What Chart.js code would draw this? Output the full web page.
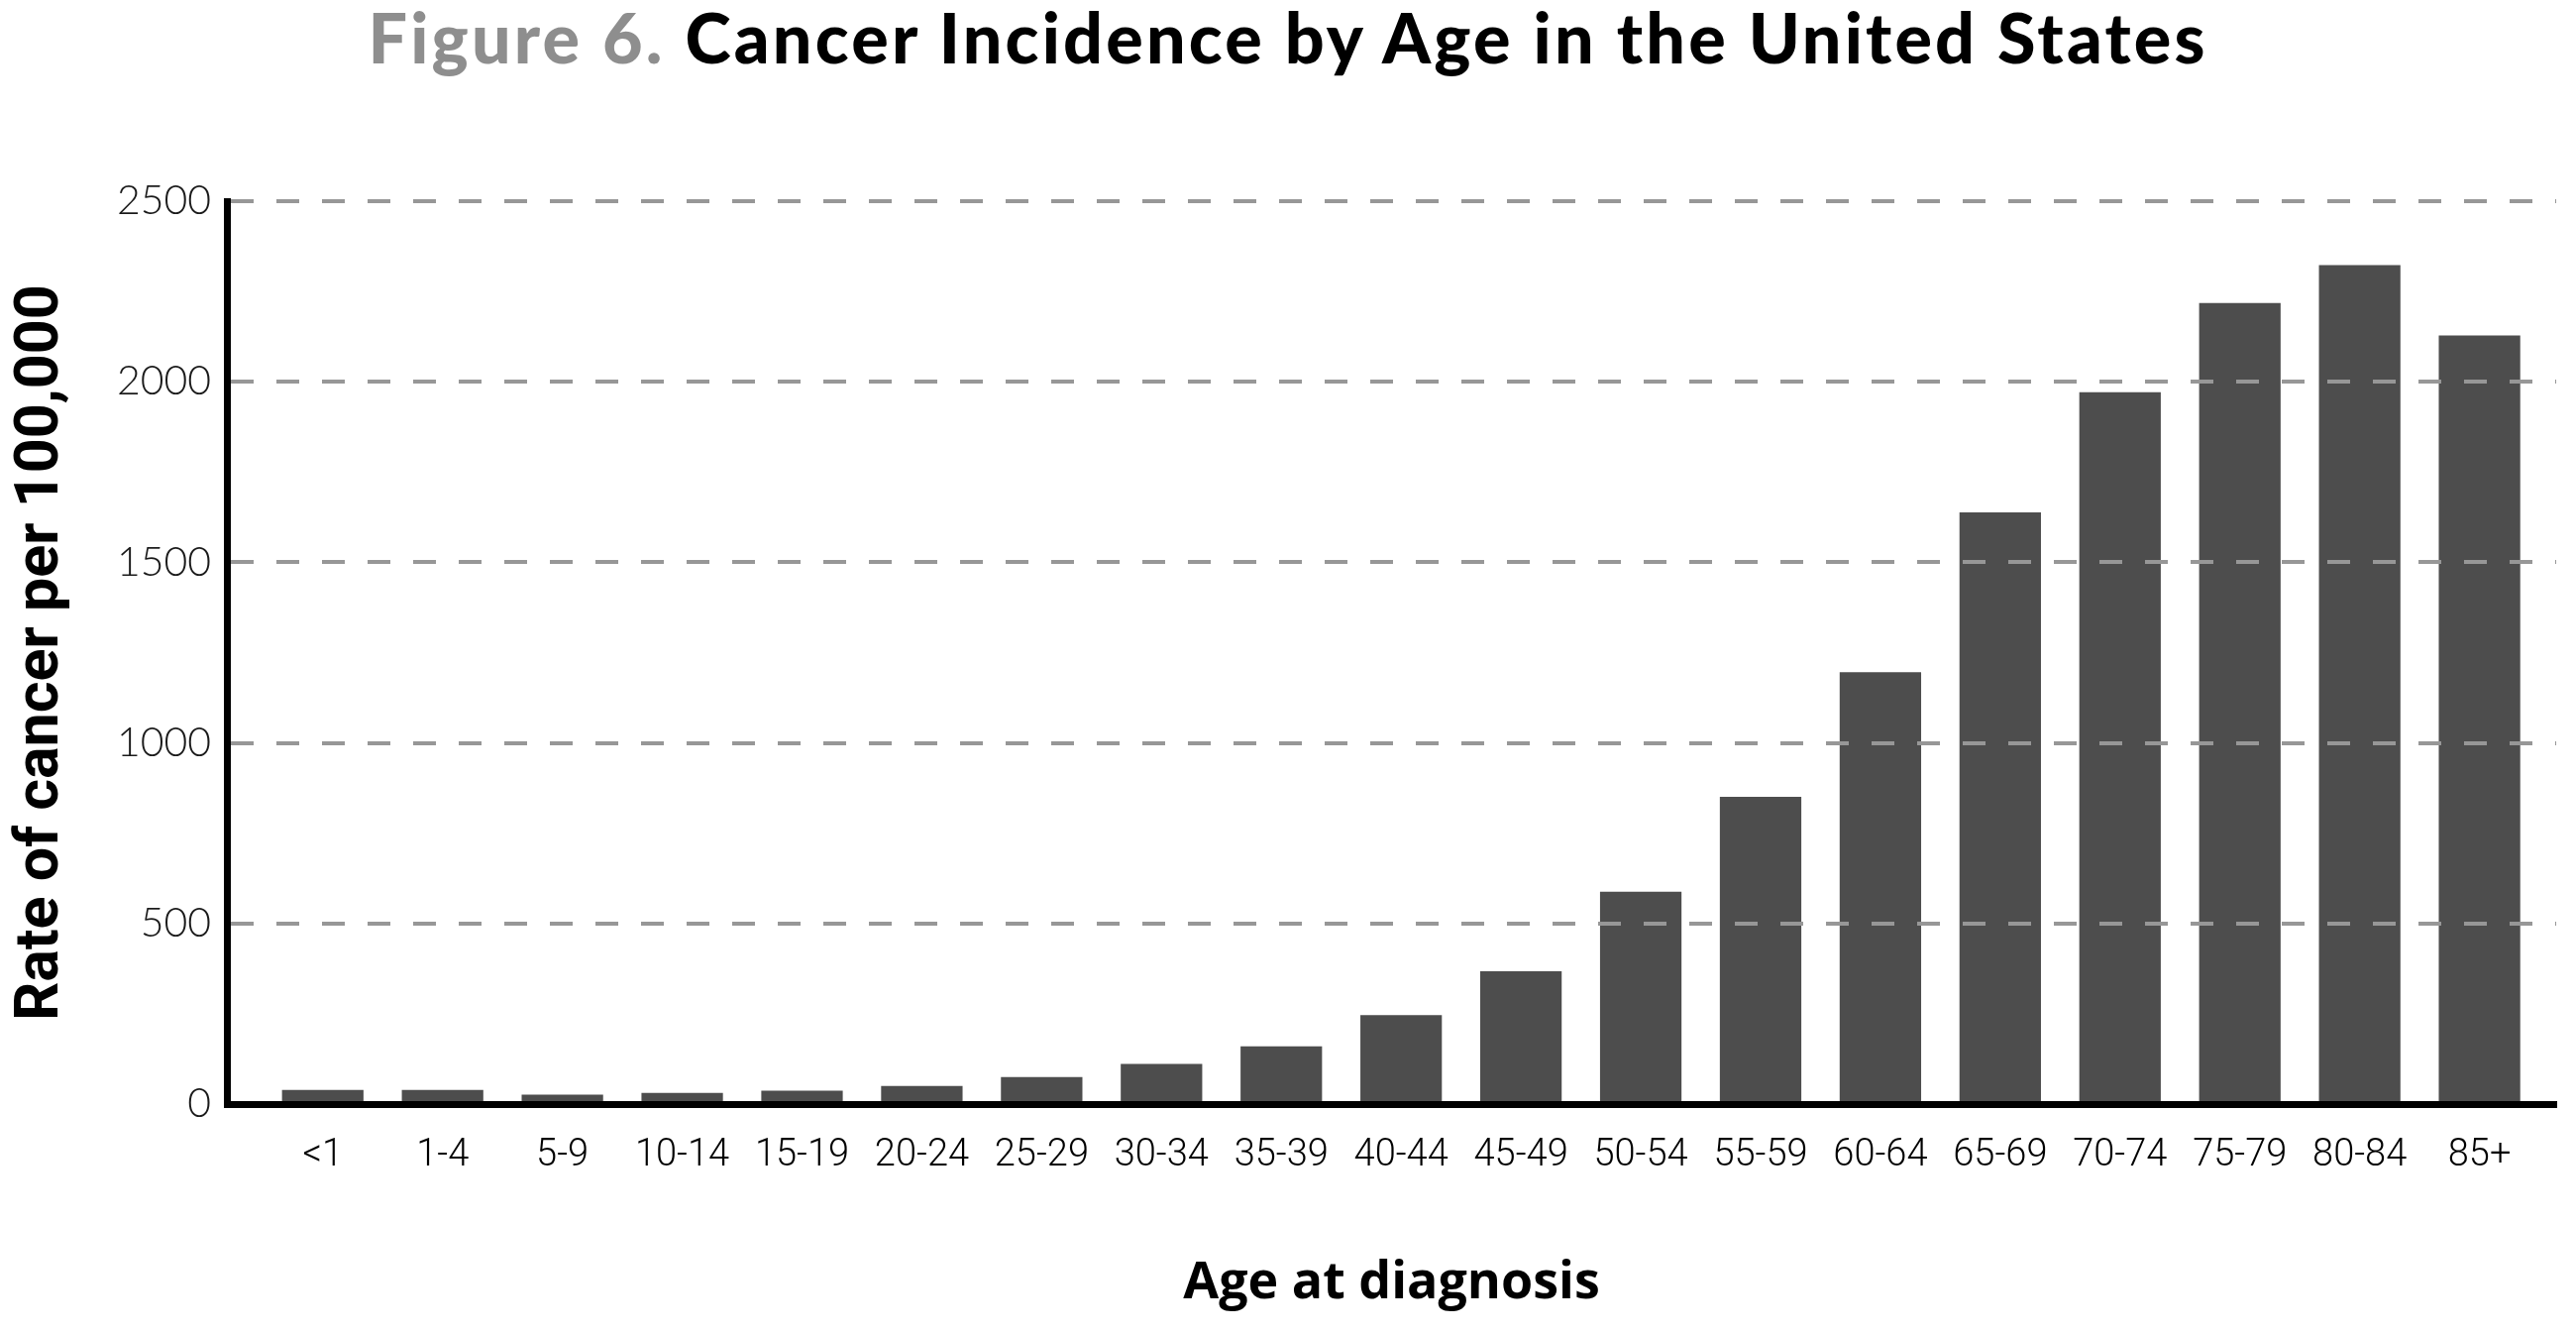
<!DOCTYPE html>
<html>
<head>
<meta charset="utf-8">
<script src="https://cdn.jsdelivr.net/npm/chart.js@4/dist/chart.umd.min.js"></script>
<style>
  html, body { margin: 0; padding: 0; background: #ffffff; }
  #wrap { position: relative; width: 2600px; height: 1345px; overflow: hidden; }
  #title {
    position: absolute; left: 0; top: -5px; width: 2600px; text-align: center;
    font-family: Lato, "Open Sans", sans-serif; font-weight: 900; font-size: 70px;
    line-height: 84px; color: #000; white-space: nowrap;
  }
  #title span.inner { display: inline-block; }
  #title .fig { color: #8e8e8e; }
  canvas { position: absolute; left: 0; top: 0; }
</style>
</head>
<body>
<div id="wrap">
  <canvas id="c" width="2600" height="1345"></canvas>
  <div id="title"><span class="inner" id="ti"><span class="fig">Figure 6.</span> Cancer Incidence by Age in the United States</span></div>
</div>
<script>
// ---- data ----
const categories = ["<1", "1-4", "5-9", "10-14", "15-19", "20-24", "25-29", "30-34", "35-39",
  "40-44", "45-49", "50-54", "55-59", "60-64", "65-69", "70-74", "75-79", "80-84", "85+"];
const rates = [39, 39, 26, 31, 37, 50, 75, 111, 160, 246, 368, 588, 851, 1196, 1638, 1971, 2218, 2323, 2128];
const yTicks = [0, 500, 1000, 1500, 2000, 2500];
const xTitle = "Age at diagnosis";
const yTitle = "Rate of cancer per 100,000";

// fit title text width to the reference span
(function fitTitle() {
  const el = document.getElementById('ti');
  const target = 1857;
  const n = el.textContent.length;
  const w = el.getBoundingClientRect().width;
  el.style.letterSpacing = ((target - w) / n).toFixed(2) + 'px';
})();

const points = rates.map((v, i) => ({ x: i, y: v }));

new Chart(document.getElementById('c'), {
  type: 'bar',
  data: {
    datasets: [{
      data: points,
      backgroundColor: '#4d4d4d',
      borderWidth: 0,
      categoryPercentage: 1,
      barPercentage: 0.68
    }]
  },
  options: {
    responsive: false,
    devicePixelRatio: 1,
    animation: false,
    layout: { padding: { top: 203, right: 20, bottom: 0, left: 0 } },
    plugins: { legend: { display: false }, tooltip: { enabled: false }, title: { display: false } },
    scales: {
      x: {
        type: 'linear',
        offset: false,
        min: -0.8,
        max: 18.64,
        afterBuildTicks: (scale) => { scale.ticks = categories.map((_, i) => ({ value: i })); },
        afterFit: (scale) => { scale.height = 231; },
        grid: { display: false, drawTicks: false },
        border: { display: true, color: '#000000', width: 7, z: 2 },
        ticks: {
          autoSkip: false, maxRotation: 0, minRotation: 0,
          padding: 30,
          color: '#000000',
          font: { family: 'Roboto, "Liberation Sans", sans-serif', size: 38, weight: 300 },
          callback: (v) => categories[v]
        },
        title: {
          display: true, text: xTitle, color: '#000000',
          font: { family: '"Open Sans", Lato, sans-serif', size: 52, weight: 700 },
          padding: { top: 0, bottom: 19 }
        }
      },
      y: {
        min: 0, max: 2500,
        afterBuildTicks: (scale) => { scale.ticks = yTicks.map(v => ({ value: v })); },
        afterFit: (scale) => { scale.width = 229; },
        grid: {
          z: 1,
          drawTicks: false,
          lineWidth: 4,
          color: (ctx) => (ctx.tick && ctx.tick.value === 0) ? 'rgba(0,0,0,0)' : '#979797',
        },
        border: { display: true, color: '#000000', width: 7, z: 2, dash: [23, 23] },
        ticks: {
          padding: 16,
          color: '#1a1a1a',
          font: { family: 'Lato, sans-serif', size: 41, weight: 300 },
          callback: (v) => String(v)
        },
        title: {
          display: true, text: yTitle, color: '#000000',
          font: { family: 'Roboto, sans-serif', size: 61, weight: 'bold' },
          padding: { top: 6, bottom: 0 }
        }
      }
    }
  }
});
</script>
</body>
</html>
